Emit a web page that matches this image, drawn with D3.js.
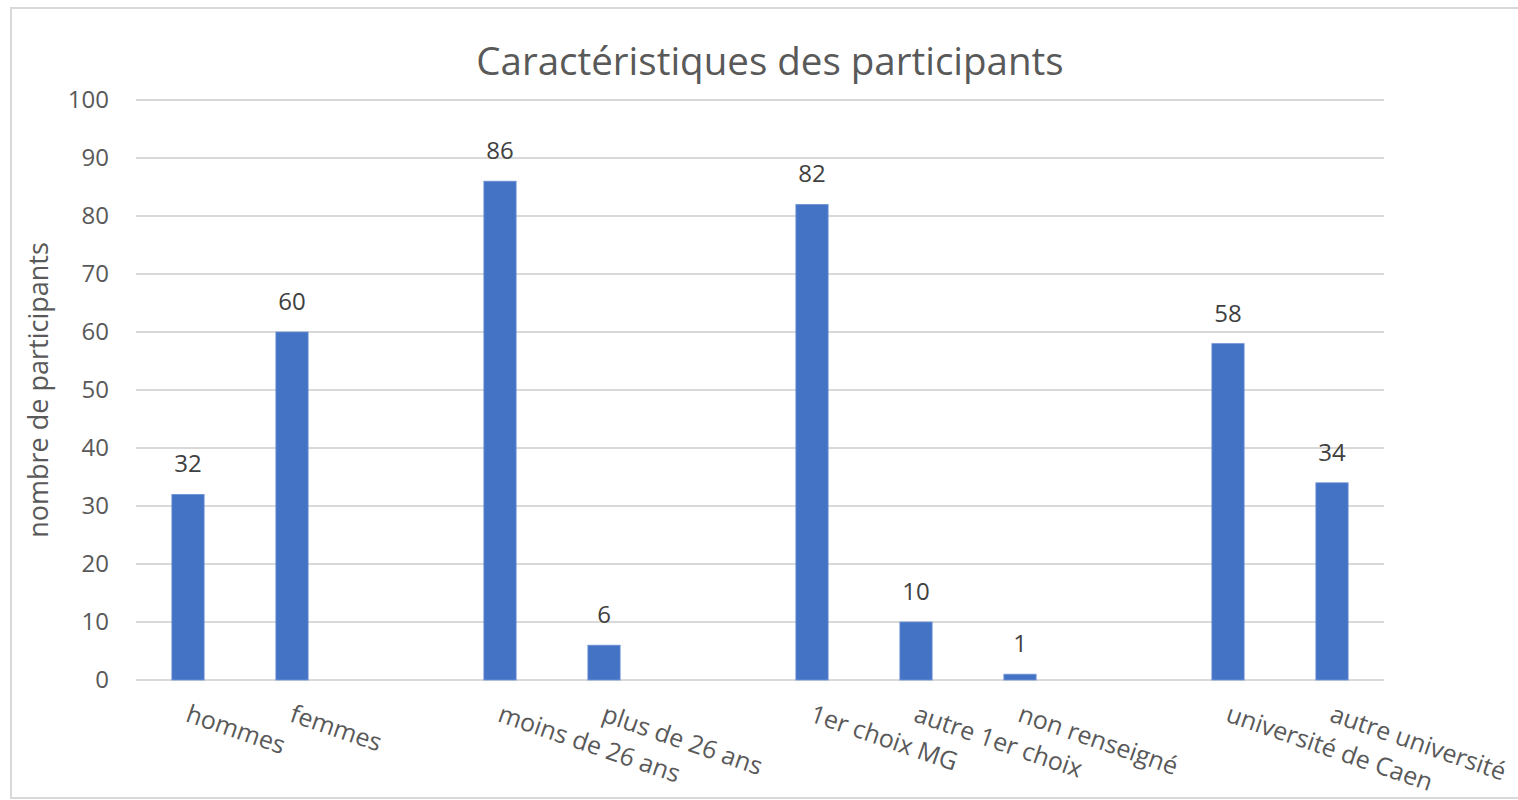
<!DOCTYPE html>
<html>
<head>
<meta charset="utf-8">
<script src="https://cdn.jsdelivr.net/npm/d3@7"></script>
<style>
  body { margin: 0; background: #fff; }
  text { font-family: "Open Sans", sans-serif; fill: #595959; }
</style>
</head>
<body>
<div id="chart"></div>
<script>
// empty strings are the gaps between the groups
var categories = ["hommes", "femmes", "", "moins de 26 ans", "plus de 26 ans", "",
                  "1er choix MG", "autre 1er choix", "non renseigné", "",
                  "université de Caen", "autre université"];
var values = [32, 60, null, 86, 6, null, 82, 10, 1, null, 58, 34];
var yTicks = [0, 10, 20, 30, 40, 50, 60, 70, 80, 90, 100];
var title = "Caractéristiques des participants";
var yTitle = "nombre de participants";

var width = 1518, height = 800;
var margin = {top: 100, right: 134, bottom: 120, left: 136};

var svg = d3.select("#chart").append("svg")
    .attr("width", width)
    .attr("height", height);

// chart frame
svg.append("path")
    .attr("d", "M" + width + ",8 H11 V798 H" + width)
    .style("fill", "none")
    .style("stroke", "#d9d9d9")
    .style("stroke-width", 2);

var x = d3.scaleBand()
    .domain(d3.range(categories.length))
    .range([margin.left, width - margin.right])
    .paddingInner(0.69)
    .paddingOuter(0.345);

var y = d3.scaleLinear()
    .domain([0, 100])
    .range([height - margin.bottom, margin.top]);

// gridlines
svg.append("g")
    .selectAll("line")
    .data(yTicks)
    .enter().append("line")
    .attr("x1", margin.left)
    .attr("x2", width - margin.right)
    .attr("y1", function(d){ return y(d); })
    .attr("y2", function(d){ return y(d); })
    .style("stroke", "#d9d9d9")
    .style("stroke-width", 2);

// y axis labels
var yAxis = svg.append("g")
    .attr("transform", "translate(" + (margin.left - 27) + ",0)")
    .call(d3.axisLeft(y).tickValues(yTicks).tickSize(0).tickPadding(0));
yAxis.select(".domain").remove();
yAxis.selectAll("text")
    .style("font-size", "24px")
    .style("font-family", "'Open Sans', sans-serif")
    .attr("fill", "#595959");

svg.append("text")
    .attr("transform", "translate(48," + (y(50)) + ") rotate(-90)")
    .attr("text-anchor", "middle")
    .style("font-size", "27px")
    .text(yTitle);

svg.append("text")
    .attr("x", 770)
    .attr("y", 75)
    .attr("text-anchor", "middle")
    .style("font-size", "38.5px")
    .text(title);

var data = categories.map(function(c, i){ return {name: c, value: values[i], i: i}; });
var bars = data.filter(function(d){ return d.value != null; });

svg.append("g")
    .selectAll("rect")
    .data(bars)
    .enter().append("rect")
    .attr("x", function(d){ return x(d.i); })
    .attr("width", x.bandwidth())
    .attr("y", function(d){ return y(d.value); })
    .attr("height", function(d){ return y(0) - y(d.value); })
    .style("fill", "#4472c4")
    .style("stroke", "#6f93d6")
    .style("stroke-width", 0.8);

svg.append("g")
    .selectAll("text")
    .data(bars)
    .enter().append("text")
    .attr("x", function(d){ return x(d.i) + x.bandwidth() / 2; })
    .attr("y", function(d){ return y(d.value) - 22; })
    .attr("text-anchor", "middle")
    .style("font-size", "24px")
    .style("fill", "#404040")
    .text(function(d){ return d.value; });

// category labels, slanted
svg.append("g")
    .selectAll("text")
    .data(bars)
    .enter().append("text")
    .attr("transform", function(d){
        return "translate(" + (x(d.i) + x.bandwidth() / 2 + 3) + "," + 702 + ") rotate(19)";
    })
    .attr("dy", "0.8em")
    .style("font-size", "25px")
    .text(function(d){ return d.name; });
</script>
</body>
</html>
